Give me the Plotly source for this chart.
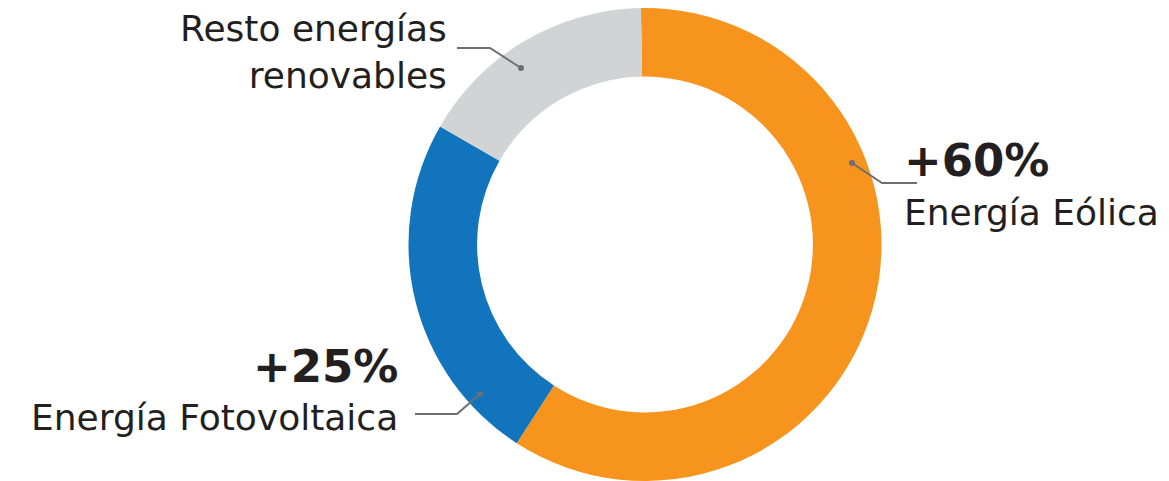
import plotly.graph_objects as go

categories = ["Energía Eólica", "Energía Fotovoltaica", "Resto energías renovables"]
shares = [59.4, 24.2, 16.4]
colors = ["#F7941D", "#1174BC", "#D1D3D4"]
pct_labels = ["+60%", "+25%", ""]

W, H = 1169, 481
MT, MB = 8, 0

def px(x):
    return x / W

def py(y):
    return (H - MB - y) / (H - MT - MB)

fig = go.Figure(go.Pie(
    labels=categories, values=shares, hole=0.71, sort=False, direction="clockwise",
    rotation=-1, marker=dict(colors=colors, line=dict(width=0)),
    textinfo="none", hoverinfo="label+percent", showlegend=False,
    domain=dict(x=[0.3, 0.8035], y=[0, 1]),
))

dark = "#231F20"
line_c = "#6D6E71"
reg = dict(family="DejaVu Sans, sans-serif", size=36, color=dark)
bold = dict(family="DejaVu Sans, sans-serif", size=45, color=dark, weight="bold")

ann = [
    dict(x=px(902), y=py(160), text=pct_labels[0], xanchor="left", yanchor="middle", font=bold),
    dict(x=px(902), y=py(212), text=categories[0], xanchor="left", yanchor="middle", font=reg),
    dict(x=px(400), y=py(367), text=pct_labels[1], xanchor="right", yanchor="middle", font=bold),
    dict(x=px(400), y=py(417), text=categories[1], xanchor="right", yanchor="middle", font=reg),
    dict(x=px(449), y=py(52), text="Resto energías<br>renovables", xanchor="right", yanchor="middle",
         align="right", font=reg),
]
for a in ann:
    a.update(xref="paper", yref="paper", showarrow=False)

leaders = [
    [(852, 163), (882, 183), (917, 183)],
    [(480, 394), (457, 414), (415, 414)],
    [(521, 68), (490, 48), (457, 48)],
]
shapes = []
for pts in leaders:
    path = "M " + " L ".join(f"{px(x)},{py(y)}" for x, y in pts)
    shapes.append(dict(type="path", path=path, xref="paper", yref="paper",
                       line=dict(color=line_c, width=2)))
    x0, y0 = pts[0]
    r = 3
    shapes.append(dict(type="circle", xref="paper", yref="paper",
                       x0=px(x0 - r), x1=px(x0 + r), y0=py(y0 + r), y1=py(y0 - r),
                       fillcolor=line_c, line=dict(width=0)))

fig.update_layout(
    width=W, height=H, margin=dict(l=0, r=0, t=MT, b=MB),
    paper_bgcolor="white", plot_bgcolor="white",
    annotations=ann, shapes=shapes,
)
fig.write_html("out.html")
